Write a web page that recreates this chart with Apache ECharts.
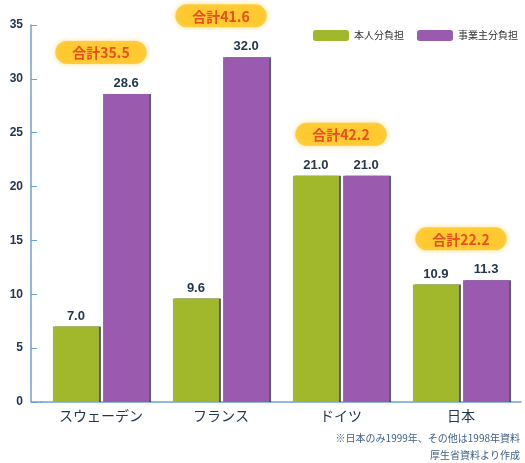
<!DOCTYPE html>
<html><head><meta charset="utf-8">
<script src="https://cdn.jsdelivr.net/npm/echarts@6/dist/echarts.min.js"></script>
<style>html,body{margin:0;padding:0;background:#fff}#c{width:525px;height:463px}</style>
</head><body><div id="c"></div>
<script>
const categories = ['スウェーデン', 'フランス', 'ドイツ', '日本'];
const selfShare = [7.0, 9.6, 21.0, 10.9];
const employerShare = [28.6, 32.0, 21.0, 11.3];
const totals = ['35.5', '41.6', '42.2', '22.2'];
const yTicks = [0, 5, 10, 15, 20, 25, 30, 35];
const seriesNames = ['本人分負担', '事業主分負担'];
const notes = ['※日本のみ1999年、その他は1998年資料', '厚生省資料より作成'];

const FONT = '"Noto Sans CJK JP", "Noto Sans", sans-serif';
const NUMFONT = '"Liberation Sans", Arial, sans-serif';
const ink = '#23364f';
const axisBlue = '#6f9fd2';
const chart = echarts.init(document.getElementById('c'));
const shadow = {shadowColor: 'rgba(30,40,70,0.75)', shadowOffsetX: 2, shadowOffsetY: 0, shadowBlur: 0};
const valueLabel = {show: true, position: 'top', distance: 4, formatter: p => p.value.toFixed(1),
  fontSize: 13, fontWeight: 'bold', color: ink, fontFamily: NUMFONT};
chart.setOption({
  animation: false,
  textStyle: {fontFamily: FONT},
  grid: {left: 41, right: 4, top: 25, bottom: 61},
  legend: {
    data: seriesNames, right: 2, top: 25, itemWidth: 36, itemHeight: 11, itemGap: 13,
    textStyle: {fontSize: 10, color: '#333', fontFamily: FONT}
  },
  xAxis: {
    type: 'category', data: categories,
    axisLine: {lineStyle: {color: axisBlue, width: 1.5}},
    axisTick: {inside: true, length: 6, lineStyle: {color: axisBlue}},
    axisLabel: {fontSize: 14, color: ink, margin: 7, fontFamily: FONT}
  },
  yAxis: {
    type: 'value', min: yTicks[0], max: yTicks[yTicks.length - 1], interval: 5, offset: 10,
    axisLine: {show: true, lineStyle: {color: axisBlue, width: 1.5}},
    axisTick: {show: true, inside: true, length: 6, lineStyle: {color: axisBlue}},
    splitLine: {show: false},
    axisLabel: {fontSize: 12, fontWeight: 'bold', color: ink, margin: 8, fontFamily: NUMFONT}
  },
  series: [
    {name: seriesNames[0], type: 'bar', data: selfShare, barWidth: 46, barGap: '9%',
     itemStyle: Object.assign({color: '#a2b82c'}, shadow), label: valueLabel},
    {name: seriesNames[1], type: 'bar', data: employerShare, barWidth: 46,
     itemStyle: Object.assign({color: '#9a5aae'}, shadow), label: valueLabel},
    {name: 'total', type: 'scatter', symbolSize: 0, silent: true,
     data: categories.map((c, i) => ({value: Math.max(selfShare[i], employerShare[i]), total: totals[i]})),
     label: {show: true, position: 'top', distance: 0, offset: [0, -30],
             formatter: p => '合計' + p.data.total,
             fontSize: 14, fontWeight: 'bold', color: '#e2301c', fontFamily: FONT,
             backgroundColor: '#ffc41c', borderRadius: 13, padding: [5, 17, 4, 17],
             shadowColor: 'rgba(255,200,60,0.8)', shadowBlur: 5}}
  ],
  graphic: [
    {type: 'line', shape: {x1: 31, y1: 402, x2: 42, y2: 402}, style: {stroke: axisBlue, lineWidth: 1.5}},
    {type: 'text', right: 5, top: 433, style: {text: notes[0], fontSize: 10, fill: '#3d5f86', fontFamily: FONT, textAlign: 'right'}},
    {type: 'text', right: 5, top: 450, style: {text: notes[1], fontSize: 10, fill: '#3d5f86', fontFamily: FONT, textAlign: 'right'}}
  ]
});
</script></body></html>
